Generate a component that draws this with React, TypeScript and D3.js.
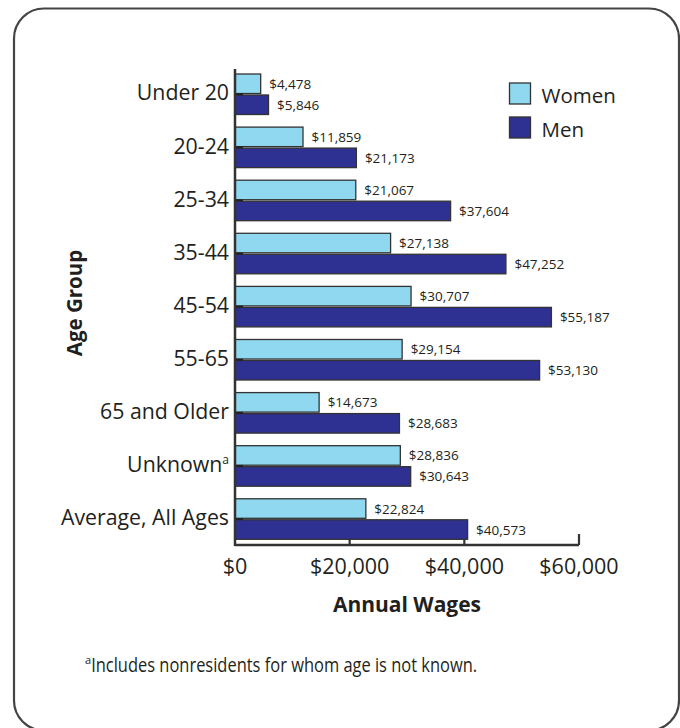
import React from "react";
import * as d3 from "d3";

const categories = ["Under 20", "20-24", "25-34", "35-44", "45-54", "55-65", "65 and Older", "Unknown", "Average, All Ages"];
const women = [4478, 11859, 21067, 27138, 30707, 29154, 14673, 28836, 22824];
const men = [5846, 21173, 37604, 47252, 55187, 53130, 28683, 30643, 40573];
const seriesNames = ["Women", "Men"];
const seriesColors = ["#8fd8ef", "#2e3192"];
const xTicks = [0, 20000, 40000, 60000];

const FONT = "'Open Sans', sans-serif";
const TEXT = "#231f20";

export default function App() {
  const W = 680, H = 728;
  const x = d3.scaleLinear().domain([0, 60000]).range([235, 579]);
  const y = d3.scaleBand<string>().domain(categories).range([74, 539.3]).paddingInner(0.237).paddingOuter(0);
  const sub = d3.scaleBand<string>().domain(seriesNames).range([0, y.bandwidth()]).paddingInner(0.07);
  const fmt = d3.format("$,");
  const axisY = 545;

  return (
    <svg width={W} height={H} style={{ position: "absolute", left: 0, top: 0 }} fontFamily={FONT}>
      <rect x={14} y={8.5} width={665} height={722} rx={30} ry={30} fill="#fff" stroke="#444" strokeWidth={2.2} />

      {categories.map((c, i) => {
        const vals = [women[i], men[i]];
        const gy = y(c)!;
        return (
          <g key={c}>
            {vals.map((v, j) => {
              const by = gy + sub(seriesNames[j])!;
              const bh = sub.bandwidth();
              return (
                <g key={j}>
                  <rect x={x(0)} y={by} width={x(v) - x(0)} height={bh} fill={seriesColors[j]} stroke="#333" strokeWidth={1.3} />
                  <text x={x(v) + 8.5} y={by + bh / 2 + 5} fontSize={13.5} fill={TEXT}>{fmt(v)}</text>
                </g>
              );
            })}
            <line x1={x(0)} x2={x(0) + 8} y1={gy + y.bandwidth() / 2} y2={gy + y.bandwidth() / 2} stroke="#222" strokeWidth={2} />
            <text x={229} y={gy + y.bandwidth() / 2 + 6.2} textAnchor="end" fontSize={21.3} fill={TEXT}>
              {c === "Unknown" ? (
                <>
                  Unknown<tspan fontSize={12} dy={-8}>a</tspan>
                </>
              ) : c}
            </text>
          </g>
        );
      })}

      {/* axes */}
      <line x1={x(0)} x2={x(0)} y1={69} y2={axisY + 1} stroke="#333" strokeWidth={2.5} />
      <line x1={x(0)} x2={x(60000)} y1={axisY} y2={axisY} stroke="#333" strokeWidth={2.5} />
      {xTicks.map((t, i) => (
        <g key={t}>
          {t > 0 && (
            <line x1={x(t)} x2={x(t)} y1={axisY} y2={axisY - (i === xTicks.length - 1 ? 11 : 6)} stroke="#333" strokeWidth={2.2} />
          )}
          <text x={x(t)} y={573.5} textAnchor="middle" fontSize={21.5} fill={TEXT}>{fmt(t)}</text>
        </g>
      ))}

      <text x={407} y={611.5} textAnchor="middle" fontSize={21} fontWeight="bold" fill={TEXT}>Annual Wages</text>
      <text transform={`translate(81.5,303) rotate(-90)`} textAnchor="middle" fontSize={20.5} fontWeight="bold" fill={TEXT}>Age Group</text>

      {/* legend */}
      {seriesNames.map((s, i) => (
        <g key={s}>
          <rect x={509.5} y={83 + i * 34} width={21} height={21} fill={seriesColors[i]} stroke="#333" strokeWidth={1.3} />
          <text x={541.5} y={103 + i * 34} fontSize={20.5} fill={TEXT}>{s}</text>
        </g>
      ))}

      <text x={85} y={671.5} fontSize={20} fill={TEXT}>
        <tspan fontSize={11} dy={-8}>a</tspan>
        <tspan dy={8} textLength={386} lengthAdjust="spacingAndGlyphs">Includes nonresidents for whom age is not known.</tspan>
      </text>
    </svg>
  );
}
